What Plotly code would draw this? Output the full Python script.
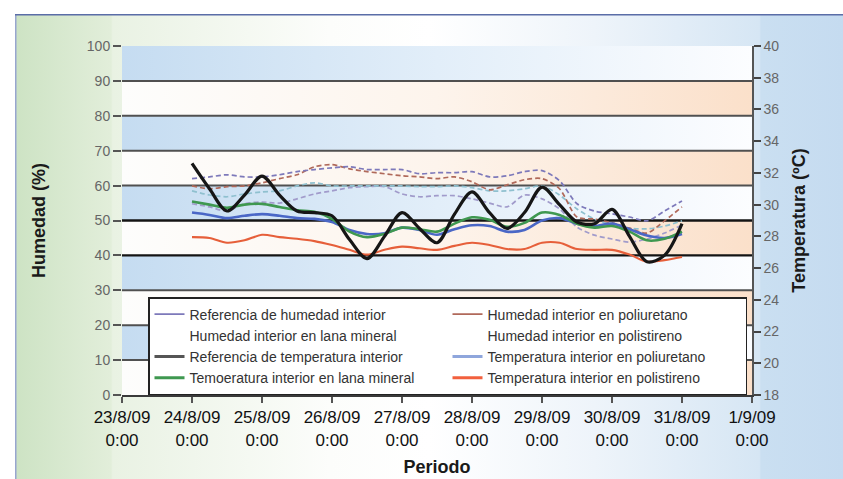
import base64
import pandas as pd
import plotly.graph_objects as go

# ---------------- data ----------------
TIMES = pd.date_range("2009-08-24 00:00", "2009-08-31 00:00", freq="6h")

HUM_REF = [62.0, 62.5, 63.1, 62.5, 62.5, 63.1, 64.0, 64.6, 65.1, 65.4, 64.6, 64.6, 64.6, 63.4, 63.7,
           63.7, 64.0, 62.5, 62.8, 64.0, 64.3, 61.4, 54.8, 52.7, 51.9, 51.0, 49.9, 52.7, 55.6]
HUM_PU = [59.9, 59.1, 59.7, 59.9, 60.8, 62.0, 63.1, 65.4, 66.0, 64.8, 64.0, 63.4, 62.8, 62.5, 62.0,
          62.5, 61.1, 58.8, 60.2, 61.7, 62.0, 59.1, 51.0, 50.4, 49.3, 47.8, 46.4, 49.9, 53.9]
HUM_LM = [58.5, 57.3, 56.8, 57.6, 58.2, 58.5, 59.9, 60.8, 59.9, 59.9, 59.9, 59.9, 59.9, 59.7, 59.7,
          59.9, 59.4, 58.5, 58.5, 59.1, 59.9, 57.3, 53.3, 50.4, 48.7, 47.8, 47.6, 48.4, 49.9]
HUM_PS = [54.8, 53.9, 52.7, 54.8, 55.3, 55.0, 56.2, 57.6, 58.5, 59.4, 59.7, 59.7, 57.6, 56.8, 57.1,
          57.1, 56.2, 55.0, 53.9, 57.3, 56.2, 53.3, 48.1, 45.8, 44.7, 43.8, 44.7, 46.4, 48.7]

TEMP_REF = [32.6, 31.0, 29.6, 30.6, 31.8, 30.6, 29.6, 29.5, 29.3, 27.8, 26.6, 28.0, 29.5, 28.5, 27.6,
            29.4, 30.8, 29.5, 28.5, 29.5, 31.1, 30.0, 28.9, 28.8, 29.7, 28.0, 26.4, 26.8, 28.8]
TEMP_PU = [29.5, 29.35, 29.15, 29.3, 29.4, 29.3, 29.15, 29.1, 28.9, 28.4, 28.15, 28.2, 28.55, 28.4, 28.1,
           28.45, 28.7, 28.65, 28.3, 28.4, 29.0, 29.15, 28.8, 28.65, 28.8, 28.45, 28.05, 27.9, 28.15]
TEMP_LM = [30.2, 30.0, 29.8, 30.0, 30.05, 29.85, 29.65, 29.55, 29.1, 28.3, 27.95, 28.15, 28.55, 28.45, 28.3,
           28.8, 29.2, 29.05, 28.6, 28.85, 29.5, 29.35, 28.8, 28.55, 28.65, 28.3, 27.75, 27.85, 28.3]
TEMP_PS = [27.95, 27.9, 27.6, 27.75, 28.1, 27.95, 27.85, 27.7, 27.45, 27.15, 26.85, 27.15, 27.35, 27.25, 27.15,
           27.4, 27.6, 27.45, 27.2, 27.2, 27.6, 27.6, 27.2, 27.15, 27.15, 26.85, 26.4, 26.5, 26.7]

DAYS = ["2009-08-23", "2009-08-24", "2009-08-25", "2009-08-26", "2009-08-27",
        "2009-08-28", "2009-08-29", "2009-08-30", "2009-08-31", "2009-09-01"]
DAY_LABELS = ["23/8/09<br>0:00", "24/8/09<br>0:00", "25/8/09<br>0:00", "26/8/09<br>0:00",
              "27/8/09<br>0:00", "28/8/09<br>0:00", "29/8/09<br>0:00", "30/8/09<br>0:00",
              "31/8/09<br>0:00", "1/9/09<br>0:00"]
HUM_TICKS = [0, 10, 20, 30, 40, 50, 60, 70, 80, 90, 100]
TEMP_TICKS = [18, 20, 22, 24, 26, 28, 30, 32, 34, 36, 38, 40]
BOLD_GRID = [40, 50]

NAMES = ["Referencia de humedad interior", "Humedad interior en poliuretano",
         "Humedad interior en lana mineral", "Humedad interior en polistireno",
         "Referencia de temperatura interior", "Temperatura interior en poliuretano",
         "Temoeratura interior en lana mineral", "Temperatura interior en polistireno"]

# ---------------- style ----------------
W, H = 843, 479
ML, MR, MT, MB = 122, 91, 46, 84
PW, PH = W - ML - MR, H - MT - MB
FONT = "Liberation Sans, Arial, sans-serif"

C_HREF, C_HPU, C_HLM, C_HPS = "#7d79ba", "#b0695a", "#8fc0cf", "#a19bcb"
C_TREF, C_TPU, C_TLM, C_TPS = "#161616", "#4a67c6", "#3f9850", "#e65f3a"

fig = go.Figure()

# background bands (gradient), built from the humidity ticks
for i in range(len(HUM_TICKS) - 1):
    y0, y1 = HUM_TICKS[i], HUM_TICKS[i + 1]
    if i % 2 == 0:
        cs = [[0, "#fdfdfc"], [0.5, "#fdf4ec"], [1, "#fbe0ca"]]
    else:
        cs = [[0, "#c5dcf1"], [0.5, "#e2eef9"], [1, "#fcfdff"]]
    fig.add_trace(go.Scatter(
        x=[DAYS[0], DAYS[-1], DAYS[-1], DAYS[0], DAYS[0]],
        y=[y0, y0, y1, y1, y0],
        mode="lines", line=dict(width=0), fill="toself",
        fillgradient=dict(type="horizontal", colorscale=cs),
        hoverinfo="skip", showlegend=False))

# horizontal grid lines
gx, gy, bx, by = [], [], [], []
for t in HUM_TICKS[1:-1]:
    if t in BOLD_GRID:
        bx += [DAYS[0], DAYS[-1], None]
        by += [t, t, None]
    else:
        gx += [DAYS[0], DAYS[-1], None]
        gy += [t, t, None]
fig.add_trace(go.Scatter(x=gx, y=gy, mode="lines", line=dict(color="#505050", width=2),
                         hoverinfo="skip", showlegend=False))
fig.add_trace(go.Scatter(x=bx, y=by, mode="lines", line=dict(color="#141414", width=2.4),
                         hoverinfo="skip", showlegend=False))

# humidity series (dashed, left axis)
DASH = "5px,3px"
for vals, col in [(HUM_PS, C_HPS), (HUM_LM, C_HLM), (HUM_PU, C_HPU), (HUM_REF, C_HREF)]:
    fig.add_trace(go.Scatter(x=TIMES, y=vals, mode="lines",
                             line=dict(color=col, width=1.7, dash=DASH, shape="spline", smoothing=0.8),
                             showlegend=False, hoverinfo="skip"))

# temperature series (solid, right axis)
for vals, col, wd in [(TEMP_PS, C_TPS, 2.1), (TEMP_PU, C_TPU, 2.6), (TEMP_LM, C_TLM, 2.6),
                      (TEMP_REF, C_TREF, 3.2)]:
    fig.add_trace(go.Scatter(x=TIMES, y=vals, yaxis="y2", mode="lines",
                             line=dict(color=col, width=wd, shape="spline", smoothing=0.9),
                             showlegend=False, hoverinfo="skip"))

# legend entries
LEG_STYLE = [(C_HREF, 1.8), (C_HPU, 1.8), ("rgba(0,0,0,0)", 1.8), ("rgba(0,0,0,0)", 1.8),
             ("#555555", 3.2), ("#8fa6dc", 3.0), (C_TLM, 3.0), ("#f2603e", 3.0)]
for name, (col, wd) in zip(NAMES, LEG_STYLE):
    fig.add_trace(go.Scatter(x=[None], y=[None], mode="lines", name=name,
                             line=dict(color=col, width=wd)))

# outer panel background (gradient) as inline svg
bw_, bh_ = W - 15, H - 14
svg = f'''<svg xmlns="http://www.w3.org/2000/svg" width="{bw_}" height="{bh_}" viewBox="0 0 {bw_} {bh_}" preserveAspectRatio="none">
<defs><linearGradient id="g" x1="0" y1="0" x2="1" y2="0">
<stop offset="0" stop-color="#cde3c4"/>
<stop offset="0.116" stop-color="#e2eeda"/>
<stop offset="0.118" stop-color="#e9f2e3"/>
<stop offset="0.38" stop-color="#fcfdfb"/>
<stop offset="0.5" stop-color="#ffffff"/>
<stop offset="0.7" stop-color="#eef4fa"/>
<stop offset="0.899" stop-color="#d6e6f4"/>
<stop offset="0.901" stop-color="#cadff1"/>
<stop offset="1" stop-color="#c5dbf0"/>
</linearGradient></defs>
<rect x="0" y="0" width="{bw_}" height="{bh_}" fill="url(#g)"/>
<line x1="0.75" y1="0" x2="0.75" y2="{bh_}" stroke="#98a6cf" stroke-width="1.5"/>
<line x1="0" y1="0.8" x2="{bw_}" y2="0.8" stroke="#5a6da7" stroke-width="1.6"/>
</svg>'''
src = "data:image/svg+xml;base64," + base64.b64encode(svg.encode()).decode()
fig.add_layout_image(dict(source=src, xref="paper", yref="paper",
                          x=(15 - ML) / PW, y=1 + (MT - 14) / PH,
                          sizex=(W - 15) / PW, sizey=(H - 14) / PH,
                          xanchor="left", yanchor="top", sizing="stretch", layer="below"))

TITLE_FONT = dict(family=FONT, size=18, color="#1a1a1a", weight="bold")

fig.update_layout(
    width=W, height=H,
    margin=dict(l=ML, r=MR, t=MT, b=MB, autoexpand=False),
    paper_bgcolor="white", plot_bgcolor="rgba(0,0,0,0)",
    showlegend=True, hovermode=False,
    font=dict(family=FONT),
    xaxis=dict(type="date", range=[DAYS[0], DAYS[-1]], tickvals=DAYS, ticktext=DAY_LABELS,
               ticks="outside", ticklen=6, tickwidth=2, tickcolor="#555555",
               showline=True, linecolor="#3a3a3a", linewidth=2, showgrid=False, zeroline=False,
               tickfont=dict(family=FONT, size=17, color="#111111"), automargin=False,
               title=dict(text="Periodo", font=TITLE_FONT, standoff=12)),
    yaxis=dict(range=[0, 100], tickvals=HUM_TICKS, ticks="outside", ticklen=8, tickwidth=2,
               tickcolor="#555555", showline=False, showgrid=False, zeroline=False,
               tickfont=dict(family=FONT, size=14, color="#666666"), automargin=False,
               title=dict(text="Humedad (%)", font=TITLE_FONT, standoff=36)),
    yaxis2=dict(range=[18, 40], tickvals=TEMP_TICKS, overlaying="y", side="right",
                ticks="outside", ticklen=7, tickwidth=2, tickcolor="#444444",
                showline=True, linecolor="#555555", linewidth=1.5, showgrid=False, zeroline=False,
                tickfont=dict(family=FONT, size=14, color="#666666"), automargin=False,
                title=dict(text="Temperatura (ºC)", font=TITLE_FONT, standoff=14)),
    legend=dict(orientation="h", x=(148 - ML) / PW, xanchor="left",
                y=(PH + MT - 297) / PH, yanchor="top",
                entrywidth=253, entrywidthmode="pixels", itemwidth=30,
                bgcolor="white", bordercolor="#222222", borderwidth=1.5,
                font=dict(family=FONT, size=14, color="#333333")),
)

fig.write_html("out.html")
